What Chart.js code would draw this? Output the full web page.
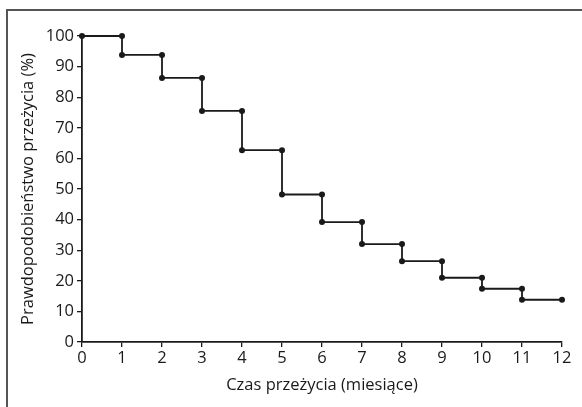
<!DOCTYPE html>
<html>
<head>
<meta charset="utf-8">
<script src="https://cdn.jsdelivr.net/npm/chart.js@4/dist/chart.umd.min.js"></script>
<style>
  html, body { margin: 0; padding: 0; background: #fff; }
  #wrap { position: relative; width: 582px; height: 407px; }
  #frame { position: absolute; left: 6px; top: 9px; right: 0; bottom: 0;
           border-left: 2px solid #555; border-top: 2px solid #555; }
  canvas { position: absolute; left: 0; top: 0; }
</style>
</head>
<body>
<div id="wrap">
  <div id="frame"></div>
  <canvas id="chart" width="582" height="407"></canvas>
</div>
<script>
'use strict';
// czas w miesiącach i prawdopodobieństwo przeżycia (%) po każdym kroku
let months = [0, 1, 2, 3, 4, 5, 6, 7, 8, 9, 10, 11, 12];
let survival = [100, 93.8, 86.3, 75.5, 62.7, 48.2, 39.2, 32.0, 26.4, 21.0, 17.4, 13.8, 13.8];
let xTicks = [0, 1, 2, 3, 4, 5, 6, 7, 8, 9, 10, 11, 12];
let yTicks = [0, 10, 20, 30, 40, 50, 60, 70, 80, 90, 100];

// krzywa schodkowa: punkt na obu końcach każdego spadku
let points = [{x: months[0], y: survival[0]}];
for (let i = 1; i < months.length; i++) {
    points.push({x: months[i], y: survival[i - 1]});
    if (survival[i] !== survival[i - 1]) {
        points.push({x: months[i], y: survival[i]});
    }
}

let font = {family: "'Open Sans', sans-serif", size: 16.5};
let ink = '#1a1a1a';

let ctx = document.getElementById('chart').getContext('2d');
new Chart(ctx, {
    type: 'scatter',
    data: {
        datasets: [{
            data: points,
            showLine: true,
            clip: false,
            borderColor: ink,
            borderWidth: 1.8,
            pointRadius: 3,
            pointBackgroundColor: ink,
            pointBorderWidth: 0,
            pointHoverRadius: 3
        }]
    },
    options: {
        responsive: false,
        animation: false,
        plugins: {legend: {display: false}, tooltip: {enabled: false}},
        layout: {padding: {left: 18, top: 36, right: 20, bottom: 8}},
        scales: {
            x: {
                type: 'linear',
                min: 0, max: 12,
                afterBuildTicks: s => { s.ticks = xTicks.map(v => ({value: v})); },
                afterFit: s => { s.height = 57; },
                border: {color: ink, width: 1.8},
                grid: {drawOnChartArea: false, color: ink, tickLength: 5, lineWidth: 1.3},
                ticks: {color: ink, font: font, padding: 1, maxRotation: 0},
                title: {display: true, text: 'Czas przeżycia (miesiące)', color: ink, font: font, padding: {top: 0}}
            },
            y: {
                min: 0, max: 100,
                afterBuildTicks: s => { s.ticks = yTicks.map(v => ({value: v})); },
                afterFit: s => { s.width = 64; },
                border: {color: ink, width: 1.8},
                grid: {drawOnChartArea: false, color: ink, tickLength: 5, lineWidth: 1.3},
                ticks: {color: ink, font: font, padding: 3},
                title: {display: true, text: 'Prawdopodobieństwo przeżycia (%)', color: ink, font: font, padding: 0}
            }
        }
    }
});
</script>
</body>
</html>
